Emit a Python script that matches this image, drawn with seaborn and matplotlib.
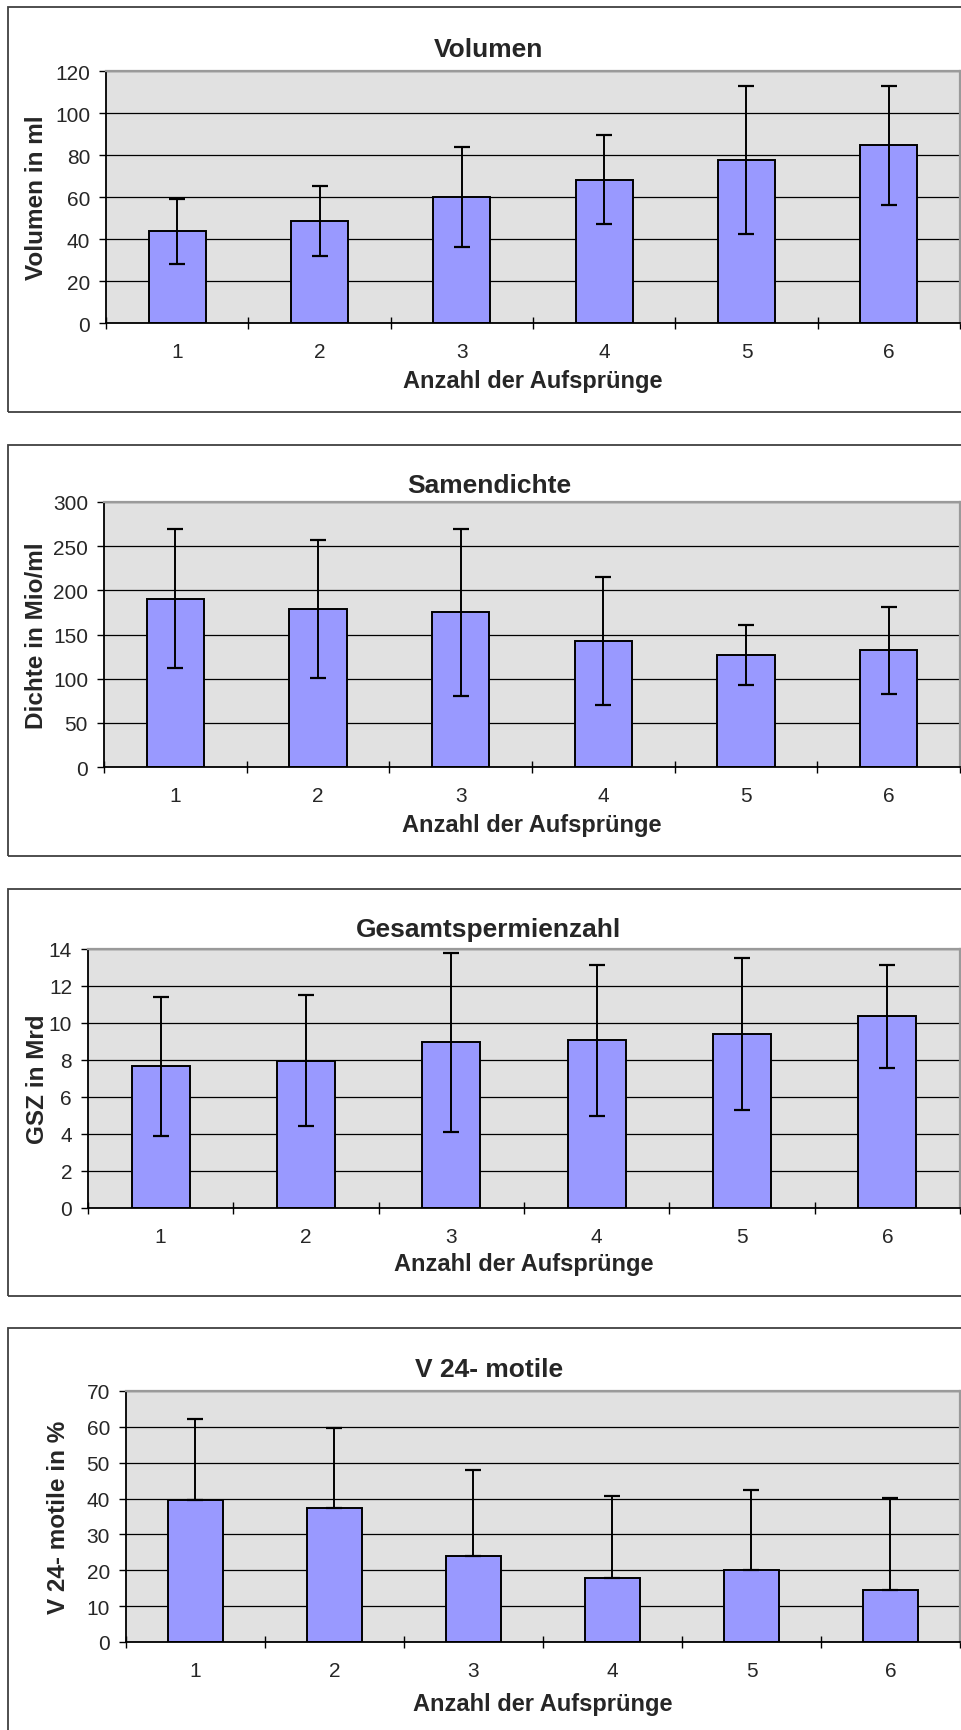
import matplotlib
matplotlib.use("Agg")
import matplotlib.pyplot as plt
from matplotlib.patches import Rectangle
from matplotlib.ticker import MultipleLocator, FixedLocator
import seaborn as sns

# === DATA ===
categories = ["1", "2", "3", "4", "5", "6"]

volumen_mean = [43.7, 48.5, 59.9, 68.3, 77.8, 84.6]
volumen_sd = [15.4, 16.7, 23.7, 21.0, 35.2, 28.3]

dichte_mean = [190.6, 179.0, 175.0, 143.0, 127.0, 132.0]
dichte_sd = [78.5, 78.5, 94.5, 72.5, 34.0, 49.5]

gsz_mean = [7.65, 7.97, 8.96, 9.06, 9.39, 10.36]
gsz_sd = [3.78, 3.56, 4.84, 4.07, 4.10, 2.77]

motile_mean = [39.6, 37.4, 24.0, 17.9, 20.1, 14.4]
motile_sd = [22.7, 22.3, 24.0, 22.8, 22.3, 25.8]

titles = ["Volumen", "Samendichte", "Gesamtspermienzahl", "V 24- motile"]
ylabels = ["Volumen in ml", "Dichte in Mio/ml", "GSZ in Mrd", "V 24- motile in %"]
xlabel = "Anzahl der Aufsprünge"
ymax = [120, 300, 14, 70]
ystep = [20, 50, 2, 10]

# === LAYOUT (pixels in the 962x1731 picture) ===
W, H = 962, 1731
# plot area: left, top, bottom (right edge = 960)
plot_boxes = [(106, 72, 324), (104, 503, 768), (88, 950, 1209), (126, 1392, 1643)]
panel_boxes = [(8, 8, 413), (8, 446, 857), (8, 890, 1297), (8, 1329, 1760)]
title_base = [57, 493, 937, 1377]
xlabel_base = [388, 832, 1271, 1711]
ylabel_x = [37, 37, 37, 59]

sns.set_style("white")
plt.rcParams["font.family"] = ["Liberation Sans", "DejaVu Sans"]

fig = plt.figure(figsize=(W / 100, H / 100), dpi=100)

series = [
    (volumen_mean, volumen_sd, False),
    (dichte_mean, dichte_sd, False),
    (gsz_mean, gsz_sd, False),
    (motile_mean, motile_sd, True),
]

for i, (means, sds, upper_only) in enumerate(series):
    # panel frame
    px, ptop, pbot = panel_boxes[i]
    fig.patches.append(Rectangle((px / W, 1 - pbot / H), 1.2, (pbot - ptop) / H,
                                 transform=fig.transFigure, fill=False,
                                 edgecolor="#404040", linewidth=1.3))

    left, top, bottom = plot_boxes[i]
    ax = fig.add_axes([left / W, 1 - bottom / H, (960 - left) / W, (bottom - top) / H])
    ax.set_facecolor("#E1E1E1")

    sns.barplot(x=categories, y=means, color="#9999FF", width=0.4,
                edgecolor="black", linewidth=1.4, saturation=1,
                errorbar=None, ax=ax, zorder=2)

    if upper_only:
        yerr = [[0] * len(sds), sds]
    else:
        yerr = sds
    ax.errorbar(x=range(len(categories)), y=means, yerr=yerr, fmt="none",
                ecolor="black", elinewidth=1.4, capsize=5.5, capthick=1.6, zorder=3)

    ax.set_xlim(-0.5, len(categories) - 0.5)
    ax.set_ylim(0, ymax[i])
    ax.yaxis.set_major_locator(MultipleLocator(ystep[i]))
    ax.yaxis.grid(True, color="black", linewidth=0.9, zorder=0)
    ax.set_axisbelow(True)

    for s in ["top", "right"]:
        ax.spines[s].set_color("#9A9A9A")
        ax.spines[s].set_linewidth(1.6)
    for s in ["left", "bottom"]:
        ax.spines[s].set_color("black")
        ax.spines[s].set_linewidth(1.3)

    ax.xaxis.set_minor_locator(FixedLocator([k - 0.5 for k in range(len(categories) + 1)]))
    ax.tick_params(axis="x", which="major", length=0, pad=13.5, labelsize=15)
    ax.tick_params(axis="x", which="minor", direction="inout", length=9,
                   width=1.0, color="black", bottom=True)
    ax.tick_params(axis="y", which="major", direction="out", length=5, width=1.0,
                   color="black", pad=6.5, labelsize=15, left=True)

    ax.set_xlabel(xlabel, fontsize=17, fontweight="bold", va="baseline")
    ax.xaxis.set_label_coords((left + 960) / 2 / W, 1 - xlabel_base[i] / H,
                              transform=fig.transFigure)
    ax.set_ylabel(ylabels[i], fontsize=17.5, fontweight="bold", va="center")
    ax.yaxis.set_label_coords(ylabel_x[i] / W, 1 - (top + bottom) / 2 / H,
                              transform=fig.transFigure)

    fig.text(489 / W, 1 - title_base[i] / H, titles[i], ha="center", va="baseline",
             fontsize=19, fontweight="bold")

fig.savefig("out.png", dpi=100, facecolor="white")
